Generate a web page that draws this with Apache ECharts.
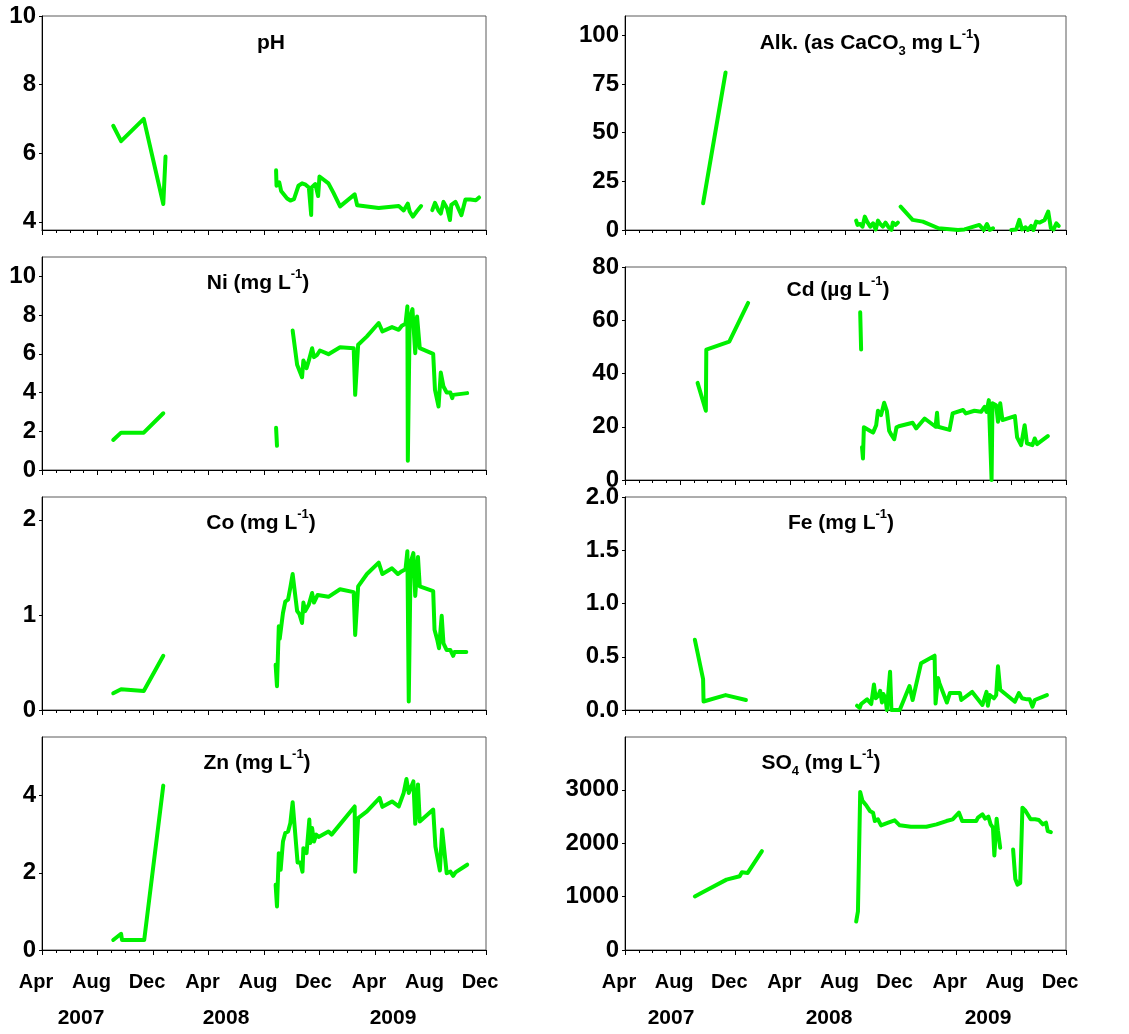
<!DOCTYPE html>
<html>
<head>
<meta charset="utf-8">
<title>Water chemistry time series 2007–2009</title>
<script src="https://cdn.jsdelivr.net/npm/echarts@6/dist/echarts.min.js"></script>
<style>
  html, body { margin: 0; padding: 0; background: #fff; }
  #chart { width: 1129px; height: 1034px; }
</style>
</head>
<body>
<div id="chart"></div>
<script>
// ---- Sampling data: segments of [date, value]; gaps between segments are not joined ----
const pH = [
  [['2007-09-05', 6.8], ['2007-09-22', 6.35], ['2007-11-11', 7.0], ['2007-12-24', 4.52], ['2007-12-29', 5.9]],
  [['2008-08-28', 5.5], ['2008-08-29', 5.05], ['2008-09-04', 5.15], ['2008-09-08', 4.9], ['2008-09-21', 4.68],
   ['2008-09-28', 4.62], ['2008-10-06', 4.66], ['2008-10-16', 5.05], ['2008-10-24', 5.12], ['2008-11-01', 5.08],
   ['2008-11-08', 5.0], ['2008-11-13', 4.2], ['2008-11-14', 5.0], ['2008-11-22', 5.1], ['2008-11-28', 4.75],
   ['2008-12-01', 5.32], ['2008-12-21', 5.12], ['2009-01-01', 4.85], ['2009-01-16', 4.45], ['2009-02-16', 4.8],
   ['2009-02-21', 4.48], ['2009-04-09', 4.4], ['2009-05-23', 4.46], ['2009-06-03', 4.33], ['2009-06-12', 4.53],
   ['2009-06-16', 4.3], ['2009-06-23', 4.15], ['2009-07-01', 4.3], ['2009-07-11', 4.46]],
  [['2009-08-05', 4.34], ['2009-08-11', 4.55], ['2009-08-19', 4.32], ['2009-08-24', 4.24], ['2009-08-30', 4.58],
   ['2009-09-07', 4.39], ['2009-09-13', 4.05], ['2009-09-16', 4.49], ['2009-09-25', 4.58], ['2009-10-08', 4.19],
   ['2009-10-17', 4.65], ['2009-10-28', 4.65], ['2009-11-09', 4.63], ['2009-11-16', 4.71]]
];

const alkalinity = [
  [['2007-09-21', 13.7], ['2007-11-10', 81]],
  [['2008-08-25', 4.8], ['2008-08-28', 2.6], ['2008-09-03', 3.1], ['2008-09-08', 1.7], ['2008-09-13', 6.9],
   ['2008-09-18', 4.3], ['2008-09-25', 1.7], ['2008-10-01', 3.4], ['2008-10-07', 0.3], ['2008-10-12', 4.8],
   ['2008-10-17', 3.1], ['2008-10-23', 1.7], ['2008-10-29', 3.8], ['2008-11-04', 1.7], ['2008-11-11', 0.1],
   ['2008-11-14', 3.8], ['2008-11-20', 2.6], ['2008-11-25', 3.8]],
  [['2008-12-01', 12.0], ['2008-12-28', 5.2], ['2009-01-20', 4.3], ['2009-02-22', 0.9], ['2009-04-06', 0.0],
   ['2009-04-20', 0.3], ['2009-05-23', 2.6], ['2009-06-02', 0.0], ['2009-06-09', 3.1], ['2009-06-15', 0.0],
   ['2009-06-22', 0.9]],
  [['2009-08-02', 0.0], ['2009-08-13', 0.3], ['2009-08-20', 5.2], ['2009-08-26', 0.3], ['2009-09-03', 1.4],
   ['2009-09-08', 0.0], ['2009-09-15', 2.1], ['2009-09-20', 0.0], ['2009-09-26', 4.3], ['2009-10-04', 3.8],
   ['2009-10-15', 5.2], ['2009-10-23', 9.5], ['2009-10-29', 0.9], ['2009-11-04', 0.3], ['2009-11-10', 3.4],
   ['2009-11-15', 2.1]]
];

const nickel = [
  [['2007-09-05', 1.55], ['2007-09-22', 1.93], ['2007-11-11', 1.93], ['2007-12-24', 2.93]],
  [['2008-08-28', 2.18], ['2008-08-30', 1.25]],
  [['2008-10-03', 7.2], ['2008-10-13', 5.43], ['2008-10-16', 5.34], ['2008-10-24', 4.79], ['2008-10-27', 5.66],
   ['2008-11-03', 5.26], ['2008-11-08', 5.66], ['2008-11-15', 6.29], ['2008-11-19', 5.83], ['2008-11-26', 5.95],
   ['2008-12-02', 6.17], ['2008-12-21', 5.98], ['2009-01-16', 6.34], ['2009-02-14', 6.29], ['2009-02-17', 3.88],
   ['2009-02-23', 6.47], ['2009-03-14', 6.9], ['2009-04-09', 7.59], ['2009-04-17', 7.16], ['2009-05-08', 7.38],
   ['2009-05-23', 7.24], ['2009-05-30', 7.45], ['2009-06-07', 7.55], ['2009-06-11', 8.45], ['2009-06-12', 0.48],
   ['2009-06-16', 7.76], ['2009-06-22', 8.31], ['2009-06-28', 6.03], ['2009-07-02', 7.93], ['2009-07-08', 6.29],
   ['2009-08-07', 6.0], ['2009-08-11', 4.14], ['2009-08-19', 3.28], ['2009-08-24', 5.03], ['2009-08-30', 4.31],
   ['2009-09-06', 4.0], ['2009-09-14', 4.0], ['2009-09-18', 3.71], ['2009-09-20', 3.88], ['2009-10-21', 3.97]]
];

const cadmium = [
  [['2007-09-09', 36.5], ['2007-09-27', 26], ['2007-09-28', 49], ['2007-11-18', 52], ['2007-12-30', 66.5]],
  [['2008-09-03', 63], ['2008-09-05', 49]],
  [['2008-09-07', 12.3], ['2008-09-09', 8.1], ['2008-09-11', 19.8], ['2008-09-24', 18.5], ['2008-10-01', 17.8],
   ['2008-10-08', 20.6], ['2008-10-12', 26], ['2008-10-19', 24.4], ['2008-10-26', 29], ['2008-11-01', 26],
   ['2008-11-06', 18.5], ['2008-11-11', 16.9], ['2008-11-17', 15.3], ['2008-11-22', 19.8], ['2008-11-29', 20.3],
   ['2008-12-28', 21.5], ['2009-01-05', 19.4], ['2009-01-24', 23.1], ['2009-02-16', 20], ['2009-02-19', 25.3],
   ['2009-02-21', 20], ['2009-03-18', 18.8], ['2009-03-25', 25], ['2009-04-17', 26.3], ['2009-04-23', 25],
   ['2009-05-12', 26], ['2009-05-27', 25.6], ['2009-06-04', 27.5], ['2009-06-08', 25.6], ['2009-06-13', 30],
   ['2009-06-19', 0], ['2009-06-21', 28.8], ['2009-06-29', 28.1], ['2009-07-03', 21.9], ['2009-07-08', 28.8],
   ['2009-07-13', 22.5], ['2009-08-10', 24], ['2009-08-15', 16], ['2009-08-24', 13.1], ['2009-09-01', 20.6],
   ['2009-09-06', 13.8], ['2009-09-18', 13.1], ['2009-09-23', 15.6], ['2009-09-28', 13.5], ['2009-10-22', 16.5]]
];

const cobalt = [
  [['2007-09-05', 0.176], ['2007-09-22', 0.218], ['2007-11-11', 0.2], ['2007-12-24', 0.57]],
  [['2008-08-27', 0.475], ['2008-08-30', 0.25], ['2008-09-03', 0.88], ['2008-09-05', 0.75], ['2008-09-12', 1.02],
   ['2008-09-17', 1.14], ['2008-09-23', 1.16], ['2008-09-28', 1.29], ['2008-10-03', 1.43], ['2008-10-13', 1.04],
   ['2008-10-18', 1.01], ['2008-10-24', 0.915], ['2008-10-27', 1.13], ['2008-10-31', 1.04], ['2008-11-08', 1.11],
   ['2008-11-15', 1.23], ['2008-11-19', 1.13], ['2008-11-27', 1.21], ['2008-12-21', 1.19], ['2009-01-16', 1.27],
   ['2009-02-14', 1.24], ['2009-02-17', 0.79], ['2009-02-23', 1.3], ['2009-03-14', 1.43], ['2009-04-09', 1.55],
   ['2009-04-17', 1.43], ['2009-05-08', 1.49], ['2009-05-21', 1.43], ['2009-05-30', 1.46], ['2009-06-07', 1.48],
   ['2009-06-11', 1.67], ['2009-06-14', 0.09], ['2009-06-18', 1.55], ['2009-06-24', 1.65], ['2009-06-28', 1.2],
   ['2009-07-04', 1.61], ['2009-07-08', 1.3], ['2009-08-07', 1.25], ['2009-08-10', 0.845], ['2009-08-16', 0.74],
   ['2009-08-20', 0.65], ['2009-08-26', 0.99], ['2009-08-30', 0.7], ['2009-09-06', 0.63], ['2009-09-14', 0.63],
   ['2009-09-20', 0.57], ['2009-09-23', 0.61], ['2009-10-19', 0.61]]
];

const iron = [
  [['2007-09-03', 0.66], ['2007-09-21', 0.29], ['2007-09-22', 0.08], ['2007-11-10', 0.14], ['2007-12-25', 0.094]],
  [['2008-08-27', 0.04], ['2008-09-02', 0.02], ['2008-09-05', 0.056], ['2008-09-18', 0.1], ['2008-09-27', 0.056],
   ['2008-10-03', 0.24], ['2008-10-07', 0.11], ['2008-10-12', 0.13], ['2008-10-17', 0.18], ['2008-10-21', 0.07],
   ['2008-10-24', 0.15], ['2008-10-29', 0.11], ['2008-11-01', 0.0], ['2008-11-05', 0.0], ['2008-11-08', 0.36],
   ['2008-11-11', 0.0], ['2008-11-29', 0.0], ['2008-12-21', 0.225], ['2008-12-28', 0.094], ['2009-01-16', 0.44],
   ['2009-02-14', 0.51], ['2009-02-16', 0.06], ['2009-02-21', 0.3], ['2009-02-24', 0.25], ['2009-03-12', 0.07],
   ['2009-03-19', 0.16], ['2009-04-10', 0.16], ['2009-04-13', 0.094], ['2009-05-07', 0.17], ['2009-05-30', 0.047],
   ['2009-06-08', 0.17], ['2009-06-11', 0.04], ['2009-06-15', 0.14], ['2009-06-24', 0.11], ['2009-06-29', 0.14],
   ['2009-07-03', 0.41], ['2009-07-08', 0.19], ['2009-08-10', 0.078], ['2009-08-19', 0.16], ['2009-08-26', 0.11],
   ['2009-09-06', 0.1], ['2009-09-12', 0.1], ['2009-09-18', 0.031], ['2009-09-23', 0.094], ['2009-10-20', 0.14]]
];

const zinc = [
  [['2007-09-05', 0.26], ['2007-09-22', 0.42], ['2007-09-24', 0.26], ['2007-11-12', 0.26], ['2007-12-24', 4.26]],
  [['2008-08-27', 1.69], ['2008-08-30', 1.13], ['2008-09-03', 2.51], ['2008-09-07', 2.08], ['2008-09-12', 2.81],
   ['2008-09-17', 3.03], ['2008-09-23', 3.07], ['2008-09-28', 3.29], ['2008-10-03', 3.83], ['2008-10-14', 2.27],
   ['2008-10-20', 2.27], ['2008-10-25', 2.03], ['2008-10-27', 2.64], ['2008-11-03', 2.51], ['2008-11-09', 3.38],
   ['2008-11-11', 2.77], ['2008-11-15', 3.16], ['2008-11-19', 2.81], ['2008-11-24', 2.99], ['2008-11-29', 2.93],
   ['2008-12-21', 3.07], ['2008-12-28', 2.99], ['2009-02-16', 3.72], ['2009-02-17', 2.03], ['2009-02-23', 3.42],
   ['2009-03-14', 3.59], ['2009-04-11', 3.94], ['2009-04-17', 3.71], ['2009-05-08', 3.85], ['2009-05-23', 3.72],
   ['2009-06-03', 4.07], ['2009-06-09', 4.43], ['2009-06-14', 4.07], ['2009-06-24', 4.37], ['2009-06-28', 3.27],
   ['2009-07-04', 4.29], ['2009-07-08', 3.33], ['2009-08-07', 3.64], ['2009-08-12', 2.68], ['2009-08-22', 2.06],
   ['2009-08-27', 3.12], ['2009-09-06', 1.99], ['2009-09-14', 2.03], ['2009-09-20', 1.92], ['2009-09-25', 2.01],
   ['2009-10-21', 2.21]]
];

const sulfate = [
  [['2007-09-03', 1004], ['2007-09-17', 1067], ['2007-11-12', 1318], ['2007-12-11', 1381], ['2007-12-16', 1456],
   ['2007-12-29', 1443], ['2008-01-30', 1851]],
  [['2008-08-25', 533], ['2008-08-29', 722], ['2008-09-03', 2962], ['2008-09-08', 2793], ['2008-09-16', 2711],
   ['2008-09-24', 2605], ['2008-10-01', 2573], ['2008-10-05', 2416], ['2008-10-12', 2448], ['2008-10-19', 2335],
   ['2008-11-04', 2385], ['2008-11-18', 2429], ['2008-11-29', 2335], ['2008-12-24', 2310], ['2009-01-28', 2310],
   ['2009-02-18', 2354], ['2009-03-11', 2416], ['2009-03-25', 2448], ['2009-04-08', 2573], ['2009-04-15', 2416],
   ['2009-05-16', 2416], ['2009-05-20', 2479], ['2009-05-30', 2542], ['2009-06-05', 2460], ['2009-06-12', 2498],
   ['2009-06-17', 2354], ['2009-06-22', 2291], ['2009-06-25', 1770], ['2009-06-30', 2460], ['2009-07-03', 2228],
   ['2009-07-08', 1914]],
  [['2009-08-06', 1883], ['2009-08-11', 1330], ['2009-08-16', 1224], ['2009-08-22', 1255], ['2009-08-27', 2667],
   ['2009-09-03', 2605], ['2009-09-14', 2448], ['2009-09-24', 2448], ['2009-10-02', 2435], ['2009-10-04', 2400],
   ['2009-10-11', 2354], ['2009-10-18', 2385], ['2009-10-22', 2228], ['2009-10-29', 2209]]
];

// ---- Axis definitions ----
const monthLabels = ['Apr', 'Aug', 'Dec'];
const yearLabels = ['2007', '2008', '2009'];

const phTicks = [4, 6, 8, 10];
const alkTicks = [0, 25, 50, 75, 100];
const niTicks = [0, 2, 4, 6, 8, 10];
const cdTicks = [0, 20, 40, 60, 80];
const coTicks = [0, 1, 2];
const feTicks = [0, 0.5, 1.0, 1.5, 2.0];
const znTicks = [0, 2, 4];
const so4Ticks = [0, 1000, 2000, 3000];

// months elapsed since 1 April 2007 (the left end of every time axis)
function monthPos(s) {
  const [y, m, d] = s.split('-').map(Number);
  const daysInMonth = new Date(Date.UTC(y, m, 0)).getUTCDate();
  return (y - 2007) * 12 + (m - 4) + (d - 1) / daysInMonth;
}

const FONT = '"Liberation Sans", Arial, sans-serif';
const GREEN = '#00f000';

// panel frames (pixels) and scale ranges
const panels = [
  { segs: pH,         ticks: phTicks,  min: 3.76, max: 10,   left: 42,  top: 16,    bottom: 230, dec: 0,
    title: 'pH', tx: 271, ty: 43 },
  { segs: alkalinity, ticks: alkTicks, min: 0,    max: 110,  left: 625, top: 16,    bottom: 230, dec: 0,
    title: 'Alk. (as CaCO{sub|3} mg L{sup|-1})', tx: 870, ty: 43 },
  { segs: nickel,     ticks: niTicks,  min: 0,    max: 11,   left: 42,  top: 257,   bottom: 470, dec: 0,
    title: 'Ni (mg L{sup|-1})', tx: 258, ty: 283 },
  { segs: cadmium,    ticks: cdTicks,  min: 0,    max: 80,   left: 625, top: 267,   bottom: 480, dec: 0,
    title: 'Cd (µg L{sup|-1})', tx: 838, ty: 290 },
  { segs: cobalt,     ticks: coTicks,  min: 0,    max: 2.24, left: 42,  top: 497,   bottom: 710, dec: 0,
    title: 'Co (mg L{sup|-1})', tx: 261, ty: 523 },
  { segs: iron,       ticks: feTicks,  min: 0,    max: 2,    left: 625, top: 497,   bottom: 710, dec: 1,
    title: 'Fe (mg L{sup|-1})', tx: 841, ty: 523 },
  { segs: zinc,       ticks: znTicks,  min: 0,    max: 5.52, left: 42,  top: 737,   bottom: 950, dec: 0,
    title: 'Zn (mg L{sup|-1})', tx: 257, ty: 763, xLabels: true },
  { segs: sulfate,    ticks: so4Ticks, min: 0,    max: 3990, left: 625, top: 737,   bottom: 950, dec: 0,
    title: 'SO{sub|4} (mg L{sup|-1})', tx: 821, ty: 763, xLabels: true }
];

const grids = [], xAxes = [], yAxes = [], series = [], titles = [];

panels.forEach((p, i) => {
  const width = p.left < 300 ? 444 : 441;
  grids.push({
    left: p.left, top: p.top, width: width, height: p.bottom - p.top,
    show: true, borderColor: '#5a5a5a', borderWidth: 1, backgroundColor: 'transparent'
  });
  xAxes.push({
    gridIndex: i, type: 'value', min: 0, max: 32, interval: 4,
    axisLine: { show: true, onZero: false, lineStyle: { color: '#000', width: 1 } },
    axisTick: { show: true, inside: false, length: 5, lineStyle: { color: '#000', width: 1 } },
    minorTick: { show: true, splitNumber: 4, length: 3, lineStyle: { color: '#000', width: 1 } },
    splitLine: { show: false }, minorSplitLine: { show: false },
    axisLabel: {
      show: !!p.xLabels, margin: 22, fontSize: 20, fontWeight: 'bold', fontFamily: FONT, color: '#000',
      padding: [0, 12, 0, 0],
      formatter: v => monthLabels[Math.round(v / 4) % 3]
    }
  });
  yAxes.push({
    gridIndex: i, type: 'value', min: p.min, max: p.max,
    axisLine: { show: true, onZero: false, lineStyle: { color: '#000', width: 1 } },
    axisTick: { show: true, inside: false, length: 3, customValues: p.ticks, lineStyle: { color: '#000' } },
    splitLine: { show: false },
    axisLabel: {
      customValues: p.ticks, margin: 6, fontSize: 24, fontWeight: 'bold', fontFamily: FONT, color: '#000',
      formatter: v => v.toFixed(p.dec)
    }
  });
  p.segs.forEach(seg => {
    series.push({
      type: 'line', xAxisIndex: i, yAxisIndex: i,
      data: seg.map(([d, v]) => [monthPos(d), v]),
      showSymbol: false, symbol: 'none', silent: true, animation: false,
      lineStyle: { color: GREEN, width: 4, cap: 'round', join: 'round' }
    });
  });
  titles.push({
    text: p.title, left: p.tx, top: p.ty, padding: 0,
    textAlign: 'center', textVerticalAlign: 'middle',
    textStyle: {
      fontSize: 21, fontWeight: 'bold', fontFamily: FONT, color: '#000', lineHeight: 30,
      rich: {
        sup: { fontSize: 13, fontWeight: 'bold', fontFamily: FONT, color: '#000', lineHeight: 14, verticalAlign: 'top' },
        sub: { fontSize: 13, fontWeight: 'bold', fontFamily: FONT, color: '#000', lineHeight: 10, verticalAlign: 'bottom' }
      }
    }
  });
});

// year captions under the bottom time axes
const yearPos = [
  { xs: [81, 226, 393], y: 1018 },
  { xs: [671, 829, 988], y: 1018 }
];
const graphics = [];
yearPos.forEach(col => {
  col.xs.forEach((x, k) => {
    graphics.push({
      type: 'text', x: x, y: col.y,
      style: { text: yearLabels[k], font: 'bold 21px ' + FONT, fill: '#000', align: 'center', verticalAlign: 'middle' }
    });
  });
});

const chart = echarts.init(document.getElementById('chart'), null, { renderer: 'canvas' });
chart.setOption({
  backgroundColor: '#fff',
  animation: false,
  title: titles,
  grid: grids,
  xAxis: xAxes,
  yAxis: yAxes,
  series: series,
  graphic: graphics
});
</script>
</body>
</html>
